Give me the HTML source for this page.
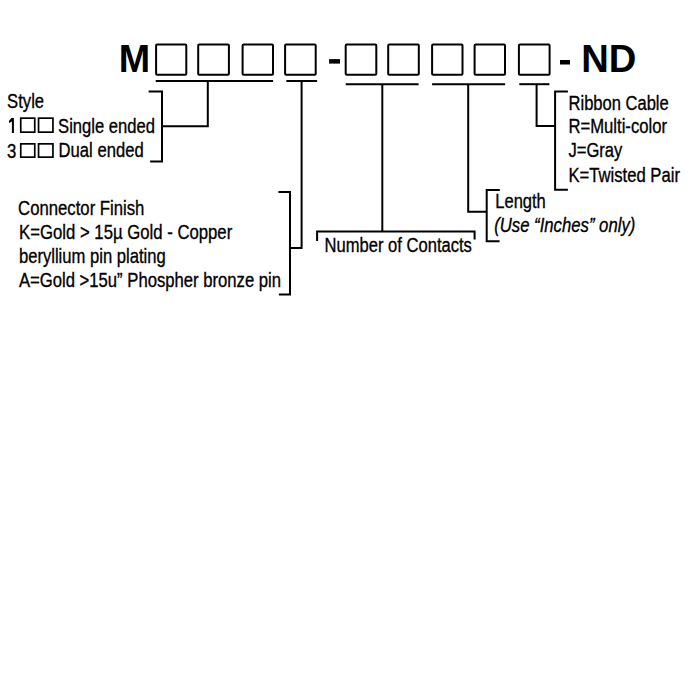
<!DOCTYPE html>
<html><head><meta charset="utf-8"><style>html,body{margin:0;padding:0;background:#fff;width:700px;height:700px;overflow:hidden}svg{display:block}</style></head>
<body><svg width="700" height="700" viewBox="0 0 700 700">
<g fill="none" stroke="#000" stroke-width="2">
<rect x="156.1" y="44.4" width="30.2" height="30.3" rx="1"/>
<rect x="198.2" y="44.4" width="30.7" height="30.3" rx="1"/>
<rect x="242.6" y="44.4" width="30.4" height="30.3" rx="1"/>
<rect x="285.1" y="44.4" width="30.6" height="30.3" rx="1"/>
<rect x="345.7" y="44.4" width="30.6" height="30.3" rx="1"/>
<rect x="388.2" y="44.4" width="30.6" height="30.3" rx="1"/>
<rect x="432.1" y="44.4" width="30.4" height="30.3" rx="1"/>
<rect x="474.6" y="44.4" width="30.4" height="30.3" rx="1"/>
<rect x="518.9" y="44.4" width="30.7" height="30.3" rx="1"/>
<rect x="20.75" y="118.15" width="14.00" height="14.00" stroke-width="1.7"/>
<rect x="38.55" y="118.15" width="14.40" height="14.00" stroke-width="1.7"/>
<rect x="20.75" y="143.85" width="14.00" height="13.30" stroke-width="1.7"/>
<rect x="38.55" y="143.85" width="14.40" height="13.30" stroke-width="1.7"/>
<path d="M155.7 80.9H273.1"/>
<path d="M286.4 81H317.1"/>
<path d="M345.7 84.2H418.6"/>
<path d="M432.1 84.2H505.1"/>
<path d="M519.3 84.2H549.4"/>
<path d="M207.8 80.9V126.3H162"/>
<path d="M148.6 91.4H162V161.6H150.1"/>
<path d="M301.6 81V247.9H290"/>
<path d="M278.4 192.1H290V294.5H278.9"/>
<path d="M382.3 84.2V231.4"/>
<path d="M317.1 241.1V231.4H474.6V239.4"/>
<path d="M468.2 84.2V211.7H486.7"/>
<path d="M499.8 190H486.7V241.2H499.6"/>
<path d="M536.6 84.2V126.1H555.1"/>
<path d="M567.9 91.4H555.1V189.8H567.9"/>
</g>
<path d="M11.4 118.1H13.9V132.9H11.9V121.4L9.2 123.1L8.9 121.1Z" fill="#000"/>
<rect x="329.1" y="59.1" width="10.9" height="4.5" fill="#000" stroke="none"/>
<rect x="560" y="60" width="10" height="4.5" fill="#000" stroke="none"/>
<g font-family='"Liberation Sans", sans-serif' fill="#000">
<text transform="translate(118.77,71.8) scale(0.9429,0.9786)" font-size="40" font-weight="bold">M</text>
<text transform="translate(581.14,71.8) scale(0.9547,0.9786)" font-size="40" font-weight="bold">ND</text>
<text transform="translate(7.11,108) scale(0.7933,1.0000)" font-size="21" stroke="#000" stroke-width="0.35">Style</text>
<text transform="translate(58.11,132.6) scale(0.7909,1.0000)" font-size="21" stroke="#000" stroke-width="0.35">Single ended</text>
<text transform="translate(6.90,157.5) scale(0.7970,1.0000)" font-size="21" stroke="#000" stroke-width="0.35">3</text>
<text transform="translate(58.61,157.3) scale(0.7924,1.0000)" font-size="21" stroke="#000" stroke-width="0.35">Dual ended</text>
<text transform="translate(18.10,215) scale(0.7962,1.0000)" font-size="21" stroke="#000" stroke-width="0.35">Connector Finish</text>
<text transform="translate(19.10,239) scale(0.7966,1.0000)" font-size="21" stroke="#000" stroke-width="0.35">K=Gold &gt; 15µ Gold - Copper</text>
<text transform="translate(18.91,263) scale(0.7913,1.0000)" font-size="21" stroke="#000" stroke-width="0.35">beryllium pin plating</text>
<text transform="translate(18.90,287.3) scale(0.7945,1.0000)" font-size="21" stroke="#000" stroke-width="0.35">A=Gold &gt;15u” Phospher bronze pin</text>
<text transform="translate(324.61,252) scale(0.7886,1.0000)" font-size="21" stroke="#000" stroke-width="0.35">Number of Contacts</text>
<text transform="translate(568.51,109.5) scale(0.7881,1.0000)" font-size="21" stroke="#000" stroke-width="0.35">Ribbon Cable</text>
<text transform="translate(568.51,133.2) scale(0.7927,1.0000)" font-size="21" stroke="#000" stroke-width="0.35">R=Multi-color</text>
<text transform="translate(568.50,157.4) scale(0.7897,1.0000)" font-size="21" stroke="#000" stroke-width="0.35">J=Gray</text>
<text transform="translate(568.51,182) scale(0.7929,1.0000)" font-size="21" stroke="#000" stroke-width="0.35">K=Twisted Pair</text>
<text transform="translate(495.31,207.6) scale(0.7871,1.0000)" font-size="21" stroke="#000" stroke-width="0.35">Length</text>
<text transform="translate(494.20,232) scale(0.7960,1.0000)" font-size="21" stroke="#000" stroke-width="0.35" font-style="italic">(Use “Inches” only)</text>
</g>
</svg></body></html>
